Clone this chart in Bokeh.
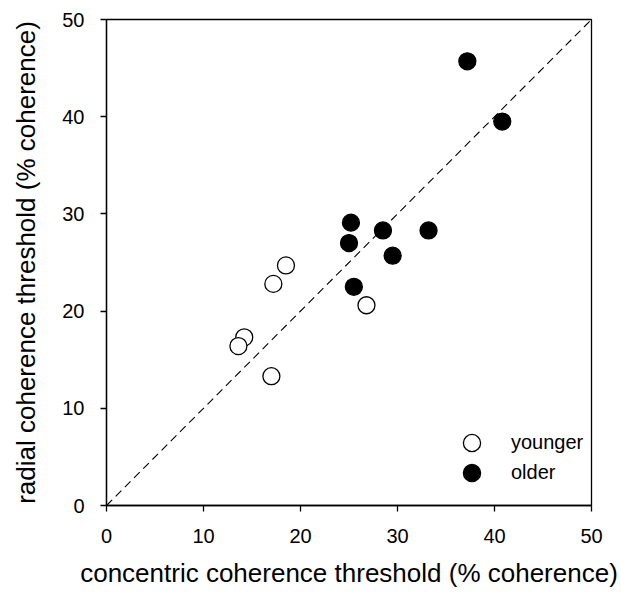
from bokeh.plotting import figure
from bokeh.models import Range1d, FixedTicker, Legend, LegendItem
from bokeh.embed import file_html
from bokeh.resources import INLINE

# data
younger_x = [18.5, 17.2, 26.8, 14.2, 13.6, 17.0]
younger_y = [24.7, 22.8, 20.6, 17.3, 16.4, 13.3]
older_x = [37.2, 40.8, 25.2, 25.0, 28.5, 33.2, 29.5, 25.5]
older_y = [45.7, 39.5, 29.1, 27.0, 28.3, 28.3, 25.7, 22.5]
diag = [0, 50]
ticks = [0, 10, 20, 30, 40, 50]

FONT = "Liberation Sans"

p = figure(width=621, height=592, output_backend="svg", toolbar_location=None,
           x_range=Range1d(0, 50), y_range=Range1d(0, 50),
           min_border_left=106, min_border_right=30, min_border_top=19, min_border_bottom=87)
p.grid.visible = False
p.outline_line_color = "black"
p.outline_line_width = 1.3

p.line(diag, diag, line_color="black", line_width=1.1, line_dash="8 5")

r_young = p.scatter(younger_x, younger_y, size=17, fill_color="white",
                    line_color="black", line_width=1.3)
r_old = p.scatter(older_x, older_y, size=17, fill_color="black",
                  line_color="black", line_width=1.3)

for ax in (p.xaxis[0], p.yaxis[0]):
    ax.ticker = FixedTicker(ticks=ticks)
    ax.minor_tick_line_color = None
    ax.major_tick_in = 0
    ax.major_tick_out = 6
    ax.major_tick_line_color = "black"
    ax.major_tick_line_width = 1.3
    ax.axis_line_color = "black"
    ax.axis_line_width = 1.3
    ax.major_label_text_font = FONT
    ax.major_label_text_font_size = "20px"
    ax.major_label_text_color = "black"
    ax.axis_label_text_font = FONT
    ax.axis_label_text_font_size = "26px"
    ax.axis_label_text_font_style = "normal"
    ax.axis_label_text_color = "black"

p.xaxis[0].axis_label = "concentric coherence threshold (% coherence)"
p.yaxis[0].axis_label = "radial coherence threshold (% coherence)"
p.xaxis[0].major_label_standoff = 17
p.yaxis[0].major_label_standoff = 16
p.xaxis[0].axis_label_standoff = 12
p.yaxis[0].axis_label_standoff = 18

common = dict(border_line_alpha=0, background_fill_alpha=0, padding=0, margin=0,
              spacing=0, glyph_width=43, glyph_height=43, label_height=43,
              label_standoff=18, label_text_font=FONT, label_text_font_size="20px",
              label_text_color="black")
legend_y = Legend(items=[LegendItem(label="younger", renderers=[r_young])],
                  location=(344, 41), **common)
legend_o = Legend(items=[LegendItem(label="older", renderers=[r_old])],
                  location=(344, 11), **common)
p.add_layout(legend_y)
p.add_layout(legend_o)

open("out.html", "w").write(file_html(p, INLINE))
